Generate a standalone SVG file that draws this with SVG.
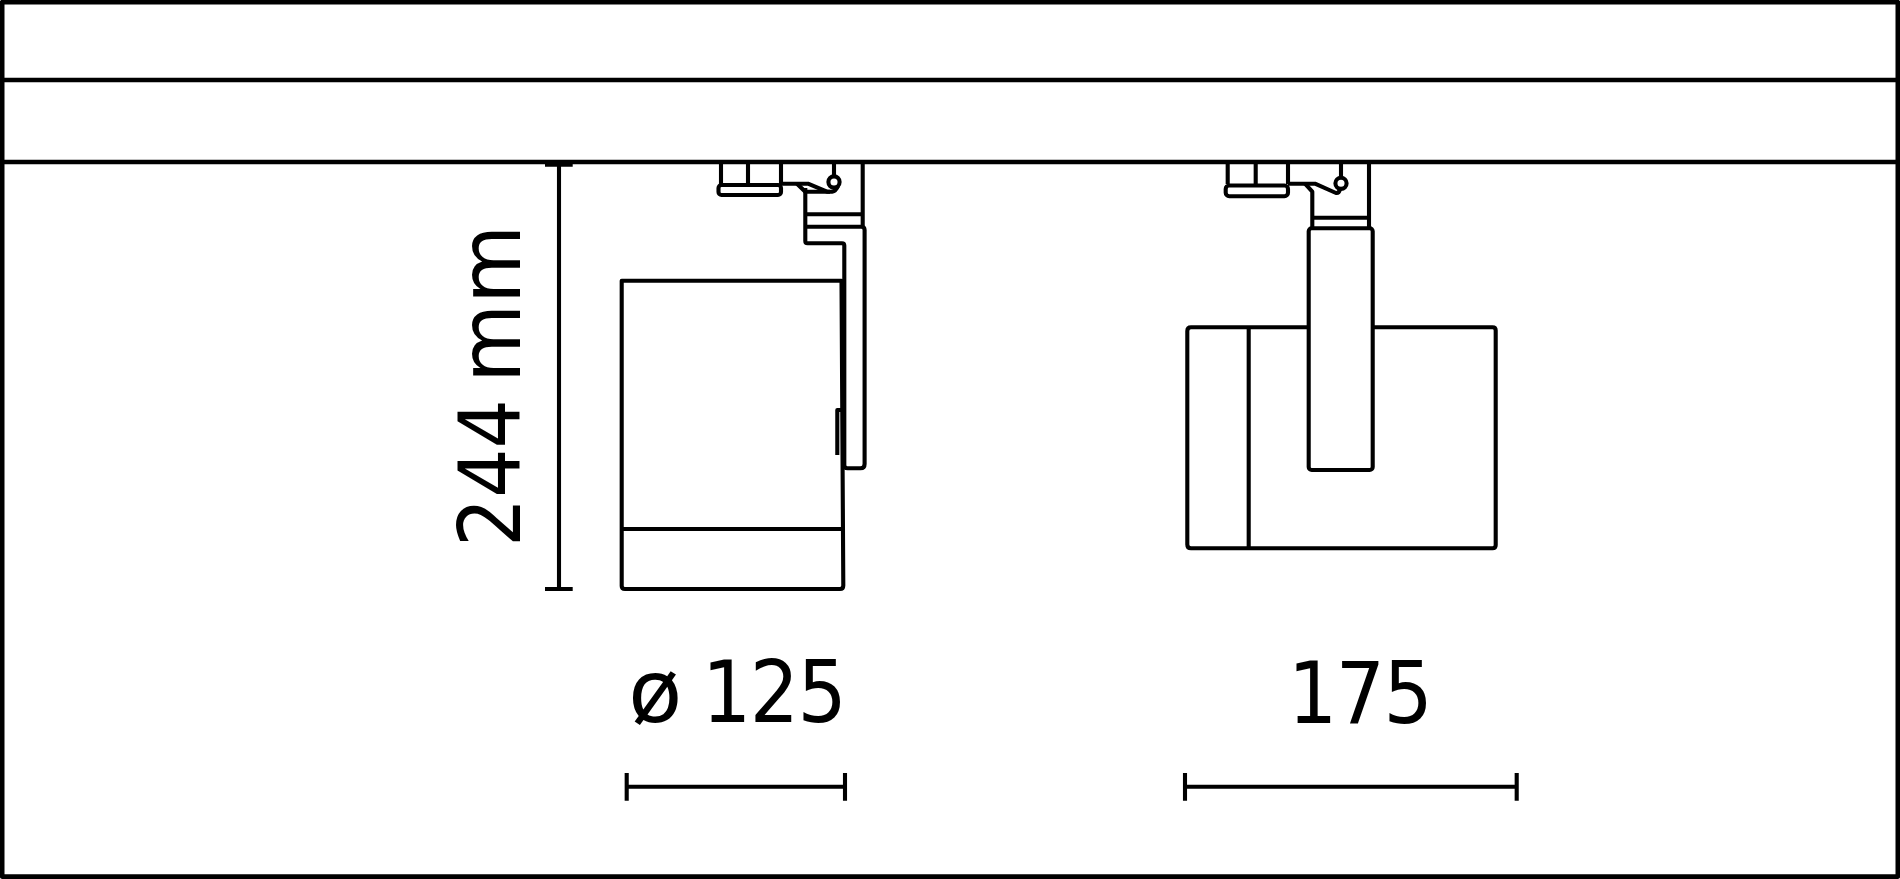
<svg xmlns="http://www.w3.org/2000/svg" width="1900" height="879" viewBox="0 0 1900 879">
<style>
.l{fill:none;stroke:#000;stroke-width:4.1;stroke-linejoin:round;stroke-linecap:butt}
.t{font-family:"DejaVu Sans",sans-serif;font-stretch:condensed;font-size:86px;fill:#000}
.o{font-family:"Noto Sans","DejaVu Sans",sans-serif;font-stretch:normal;font-size:90px}
</style>
<rect width="1900" height="879" fill="#fff"/>
<g id="frame" class="l" style="stroke-width:4.6">
<rect x="2.2" y="2.2" width="1895.6" height="874.4"/>
<path d="M0 80H1900M0 162H1900"/>
</g>
<g id="side-view" class="l">
<path d="M721 162V184M748 162V184M781 162V184"/>
<rect x="718.5" y="185" width="62.5" height="10" rx="3"/>
<path d="M781 183.7H808L827 191.7H832Q836 191 838 186"/>
<path d="M797 183.7L805.3 191.7H830"/>
<circle cx="834" cy="182" r="5.6"/>
<path d="M834 162V176.4"/>
<path d="M862.7 162V226"/>
<path d="M805.3 188V241Q805.3 243.3 807.5 243.3H842Q844.3 243.3 844.3 245.5V465Q844.3 468.3 847.5 468.3H860.5Q864.6 468.3 864.6 464V230Q864.6 226.7 861 226.7H805.3"/>
<path d="M805.3 214.3H862.7"/>
<path d="M837.3 455V410H843"/>
<path d="M621.7 280.7H841.5L843.3 585.5Q843.3 589 840 589H625Q621.7 589 621.7 586Z"/>
<path d="M621.7 529H842.6"/>
</g>
<g id="front-view" class="l">
<path d="M1227.7 162V184M1255.7 162V184M1288 162V184"/>
<rect x="1225.7" y="185.5" width="62.3" height="10.7" rx="3.5"/>
<path d="M1288 183.7H1315L1336 193Q1339 193.5 1340 189"/>
<path d="M1305 183.7L1312.3 191.7V228"/>
<circle cx="1341" cy="183.3" r="5.6"/>
<path d="M1341 162V177.7"/>
<path d="M1369 162V228"/>
<path d="M1312.3 217.7H1369"/>
<rect x="1308.7" y="228.3" width="64" height="241.7" rx="3"/>
<path d="M1308.7 327.3H1191Q1187.3 327.3 1187.3 331V544.5Q1187.3 548.3 1191 548.3H1492.5Q1495.7 548.3 1495.7 545V330.5Q1495.7 327.3 1492.5 327.3H1372.7"/>
<path d="M1248.7 327.3V548.3"/>
</g>
<g id="dimensions" class="l">
<path d="M559 165V589M545 164.7H572.7M545 589H572.7"/>
<path d="M626.7 786.7H845M626.7 773V800.7M845 773V800.7"/>
<path d="M1185 786.7H1516.7M1185 773V800.7M1516.7 773V800.7"/>
</g>
<g id="labels">
<text class="t" transform="translate(520 547) rotate(-90)">244 <tspan dx="-8" textLength="158" lengthAdjust="spacingAndGlyphs">mm</tspan></text>
<text class="t" x="628" y="722"><tspan class="o">ø</tspan> <tspan x="702" letter-spacing="-1.5">125</tspan></text>
<text class="t" x="1288" y="723" letter-spacing="-1.5">175</text>
</g>
</svg>
